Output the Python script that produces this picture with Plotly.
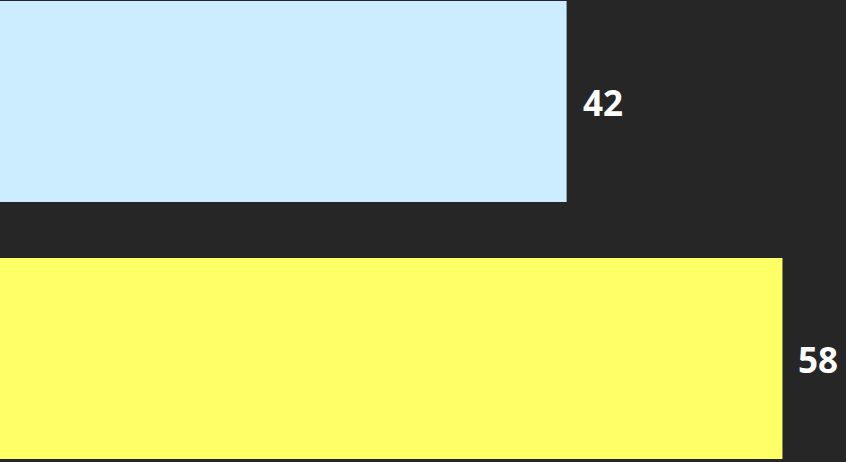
import plotly.graph_objects as go

categories = ["A", "B"]
values = [42, 58]
colors = ["#CCECFF", "#FFFF66"]

positions = list(range(len(categories)))

fig = go.Figure()
fig.add_trace(go.Bar(
    x=values,
    y=positions,
    orientation="h",
    marker=dict(color=colors, line=dict(width=0)),
    width=0.782,
    hoverinfo="skip",
))

for p, v in zip(positions, values):
    fig.add_annotation(
        x=v, y=p, text=f"<b>{v}</b>", showarrow=False,
        xanchor="left", yanchor="middle", xshift=14, yshift=-1,
        font=dict(family="Open Sans", size=35, color="#FFFFFF"),
    )

fig.update_layout(
    width=846, height=462,
    margin=dict(l=0, r=0, t=0, b=0),
    paper_bgcolor="#262626",
    plot_bgcolor="#262626",
    showlegend=False,
    xaxis=dict(range=[0, 62.71], visible=False, showgrid=False, zeroline=False),
    yaxis=dict(range=[1.403, -0.395], visible=False, showgrid=False, zeroline=False),
)

fig.write_html(
    "out.html",
    config={"displayModeBar": False},
    post_script="document.body.style.margin='0';document.body.style.overflow='hidden';document.body.style.background='#262626';",
)
